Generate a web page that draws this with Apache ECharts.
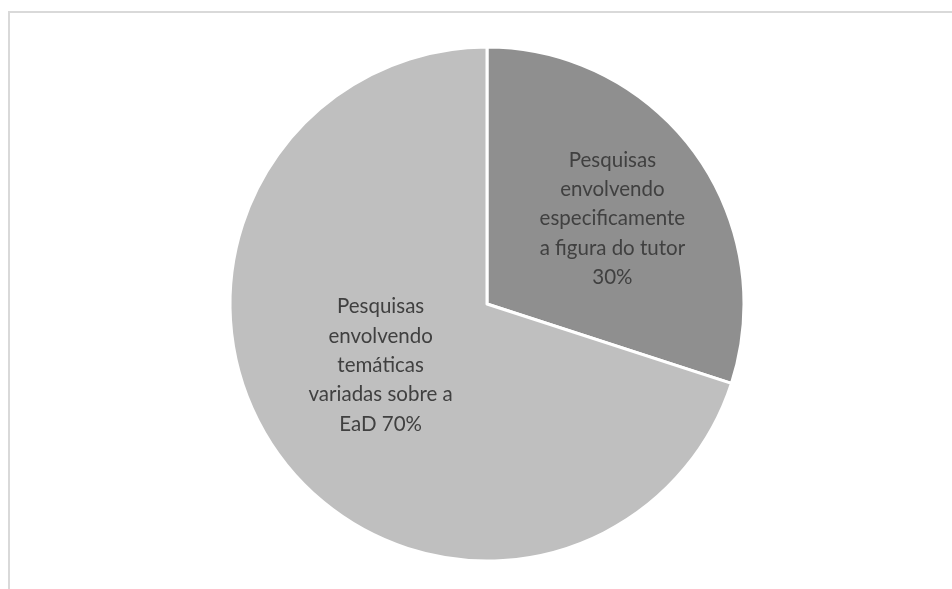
<!DOCTYPE html>
<html>
<head>
<meta charset="utf-8">
<script src="https://cdn.jsdelivr.net/npm/echarts@6/dist/echarts.min.js"></script>
<style>
  html, body { margin: 0; padding: 0; background: #ffffff; }
  #chart { width: 952px; height: 589px; }
</style>
</head>
<body>
<div id="chart"></div>
<script>
// Share of theses by research theme
const categories = [
  'Pesquisas\nenvolvendo\nespecificamente\na figura do tutor',
  'Pesquisas\nenvolvendo\ntemáticas\nvariadas sobre a\nEaD'
];
const values = [30, 70];
const sliceColors = ['#8f8f8f', '#bfbfbf'];
// text placed between the name and the percentage
const joiners = ['\n', ' '];

const labelOffsets = [[19, -8], [0, -16]];

const chart = echarts.init(document.getElementById('chart'));

chart.setOption({
  backgroundColor: '#ffffff',
  animation: false,
  graphic: [{
    type: 'rect',
    shape: { x: 9, y: 12, width: 1000, height: 700 },
    style: { fill: 'none', stroke: '#d9d9d9', lineWidth: 2 },
    silent: true
  }],
  series: [{
    type: 'pie',
    center: [487, 304],
    radius: [0, 257],
    startAngle: 90,
    clockwise: true,
    avoidLabelOverlap: false,
    itemStyle: { borderColor: '#ffffff', borderWidth: 3 },
    label: {
      show: true,
      position: 'inside',
      color: '#404040',
      fontFamily: 'Lato, "Open Sans", sans-serif',
      fontSize: 20.5,
      lineHeight: 29.3,
      align: 'center',
      formatter: p => p.name + joiners[p.dataIndex] + Math.round(p.percent) + '%'
    },
    labelLine: { show: false },
    emphasis: { disabled: true },
    data: categories.map((name, i) => ({
      name: name,
      value: values[i],
      itemStyle: { color: sliceColors[i] },
      label: { offset: labelOffsets[i] }
    }))
  }]
});
</script>
</body>
</html>
